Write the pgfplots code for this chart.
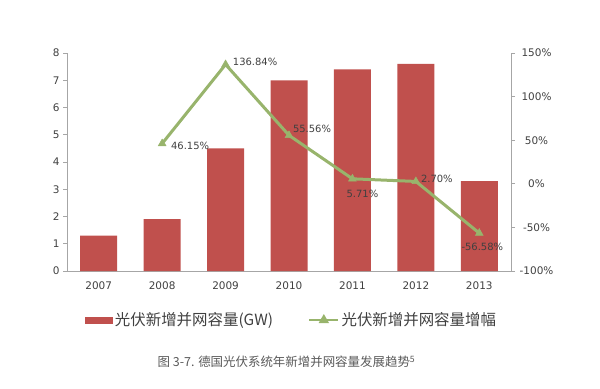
\documentclass[border=0pt]{standalone}
\usepackage{pgfplots}
\pgfplotsset{compat=1.18}
\usepackage{fontspec}
\setmainfont{DejaVu Sans}
\newfontfamily\cjk{Noto Sans CJK SC}
\definecolor{barred}{HTML}{C0504D}
\definecolor{lgreen}{HTML}{98B46C}
\definecolor{axgray}{HTML}{A6A6A6}
\definecolor{txt}{HTML}{404040}
\definecolor{captxt}{HTML}{595959}

\pgfplotstableread{
x y lbl dx dy
1 46.15 46.15 28 -2.5
2 136.84 136.84 29.5 2.5
3 55.56 55.56 23 6
4 5.71 5.71 10 -15
5 2.70 2.70 21 3
6 -56.58 -56.58 3 -14
}\growth

\begin{document}
\begin{tikzpicture}[x=1bp,y=1bp]
\path[use as bounding box] (0,0) rectangle (600,388);
\begin{axis}[
  at={(67bp,117bp)}, anchor=south west,
  scale only axis, width=444bp, height=218bp,
  /pgf/number format/assume math mode=true,
  xmin=-0.5, xmax=6.5, ymin=0, ymax=8,
  xtick={0,1,2,3,4,5,6},
  xticklabels={2007,2008,2009,2010,2011,2012,2013},
  ytick={0,1,2,3,4,5,6,7,8},
  axis x line*=bottom, axis y line*=left,
  axis line style={axgray, line width=0.8pt, -},
  tick align=outside,
  major tick length=4bp,
  ytick style={axgray, line width=0.8pt},
  xtick style={draw=none},
  ticklabel style={font=\fontsize{10.5}{12}\selectfont, text=txt},
  xticklabel style={yshift=-3bp},
  legend style={at={(0.5056,-0.2248)}, anchor=center, draw=none, fill=none,
    font=\cjk\fontsize{15.5}{18}\selectfont, text=txt,
    legend columns=2,
    /tikz/every even column/.append style={column sep=33bp},
    inner sep=0pt},
  legend cell align=left,
]
\addplot[ybar, bar width=37bp, fill=barred, draw=none,
  legend image code/.code={\fill[barred] (0bp,-3.5bp) rectangle (28bp,3.5bp);}]
  coordinates {(0,1.3) (1,1.9) (2,4.5) (3,7.0) (4,7.4) (5,7.6) (6,3.3)};
\addlegendentry{光伏新增并网容量(GW)}
\addlegendimage{lgreen, line width=2.5bp, mark=triangle*, mark size=3.5bp,
  legend image code/.code={\draw[mark repeat=2,mark phase=2,lgreen, line width=2.5bp, mark=triangle*, mark size=3.5bp] plot coordinates {(0bp,0bp) (14.5bp,0bp) (29bp,0bp)};}}
\addlegendentry{光伏新增并网容量增幅}
\end{axis}

\begin{axis}[
  at={(67bp,117bp)}, anchor=south west,
  scale only axis, width=444bp, height=218bp,
  /pgf/number format/assume math mode=true,
  xmin=-0.5, xmax=6.5, ymin=-100, ymax=150,
  ytick={-100,-50,0,50,100,150},
  yticklabel={\pgfmathprintnumber{\tick}\%},
  axis y line*=right, axis x line=none,
  axis line style={axgray, line width=0.8pt, -},
  tick align=outside,
  major tick length=4bp,
  ytick style={axgray, line width=0.8pt},
  yticklabel style={font=\fontsize{10.5}{12}\selectfont, text=txt, text width=36bp, align=center},
]
\addplot[lgreen, line width=3bp, mark=triangle*, mark size=4.5bp,
  mark options={solid, line width=0.5pt},
  point meta=explicit symbolic,
  nodes near coords={\pgfplotspointmeta\%},
  visualization depends on={\thisrow{dx}\as\dx},
  visualization depends on={\thisrow{dy}\as\dy},
  every node near coord/.append style={anchor=center, xshift=\dx bp, yshift=\dy bp,
    font=\fontsize{10}{12}\selectfont, text=txt, inner sep=0pt},
] table[x=x, y=y, meta=lbl] {\growth};
\end{axis}

\node[font=\cjk\fontsize{12.5}{14}\selectfont, text=captxt] at (286.5,26) {图 3-7. 德国光伏系统年新增并网容量发展趋势\textsuperscript{5}};
\end{tikzpicture}
\end{document}
